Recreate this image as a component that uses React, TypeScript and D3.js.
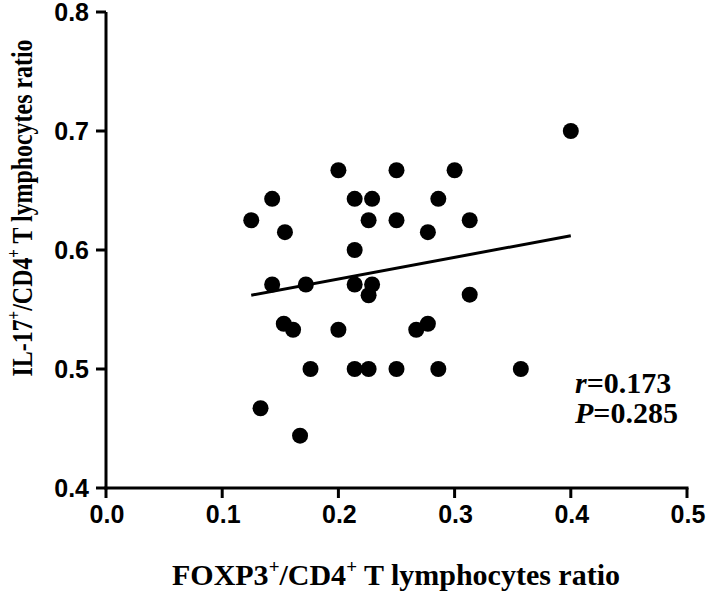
import React from "react";
import * as d3 from "d3";

const xValues = [
  0.2, 0.25, 0.143, 0.214, 0.229, 0.125, 0.226, 0.25, 0.154, 0.214,
  0.4, 0.3, 0.286, 0.313, 0.277, 0.313, 0.267, 0.277,
  0.143, 0.172, 0.214, 0.229, 0.226, 0.153, 0.161, 0.2, 0.176, 0.214, 0.226, 0.25, 0.133, 0.167,
  0.286, 0.357,
];
const yValues = [
  0.667, 0.667, 0.643, 0.643, 0.643, 0.625, 0.625, 0.625, 0.615, 0.6,
  0.7, 0.667, 0.643, 0.625, 0.615, 0.5625, 0.533, 0.538,
  0.571, 0.571, 0.571, 0.571, 0.562, 0.538, 0.533, 0.533, 0.5, 0.5, 0.5, 0.5, 0.467, 0.444,
  0.5, 0.5,
];
const fitX = [0.125, 0.4];
const fitY = [0.562, 0.612];
const xTicks = [0, 0.1, 0.2, 0.3, 0.4, 0.5];
const yTicks = [0.4, 0.5, 0.6, 0.7, 0.8];
const statLines = [
  { sym: "r", val: "=0.173" },
  { sym: "P", val: "=0.285" },
];

const W = 709;
const H = 594;
const serif = "'Liberation Serif', 'Times New Roman', serif";
const sans = "'Liberation Sans', Arial, Helvetica, sans-serif";

export default function App() {
  const x = d3.scaleLinear().domain([0, 0.5]).range([106, 687]);
  const y = d3.scaleLinear().domain([0.4, 0.8]).range([488, 12]);
  const line = d3
    .line<number>()
    .x((d) => x(d))
    .y((_, i) => y(fitY[i]));

  return (
    <svg
      width={W}
      height={H}
      style={{ position: "absolute", left: 0, top: 0, background: "#fff" }}
    >
      {/* axes */}
      <line x1={x(0)} x2={x(0)} y1={y(0.8)} y2={y(0.4) + 1.5} stroke="#000" strokeWidth={3} />
      <line x1={x(0) - 1.5} x2={x(0.5) + 1.5} y1={y(0.4)} y2={y(0.4)} stroke="#000" strokeWidth={3} />
      {yTicks.map((t) => (
        <g key={"y" + t}>
          <line x1={x(0) - 10} x2={x(0)} y1={y(t)} y2={y(t)} stroke="#000" strokeWidth={3} />
          <text
            x={89}
            y={y(t)}
            textAnchor="end"
            dominantBaseline="central"
            fontFamily={sans}
            fontWeight="bold"
            fontSize={25}
          >
            {t.toFixed(1)}
          </text>
        </g>
      ))}
      {xTicks.map((t) => (
        <g key={"x" + t}>
          <line x1={x(t)} x2={x(t)} y1={y(0.4)} y2={y(0.4) + 10} stroke="#000" strokeWidth={3} />
          <text
            x={x(t) + 1}
            y={523}
            textAnchor="middle"
            fontFamily={sans}
            fontWeight="bold"
            fontSize={25}
          >
            {t.toFixed(1)}
          </text>
        </g>
      ))}

      {/* points */}
      {xValues.map((xv, i) => (
        <circle key={i} cx={x(xv)} cy={y(yValues[i])} r={8} fill="#000" />
      ))}

      {/* regression line */}
      <path d={line(fitX) || ""} stroke="#000" strokeWidth={3} fill="none" />

      {/* stats */}
      {statLines.map((s, i) => (
        <text
          key={s.sym}
          x={575}
          y={393 + i * 30}
          fontFamily={serif}
          fontWeight="bold"
          fontSize={30}
        >
          <tspan fontStyle="italic">{s.sym}</tspan>
          {s.val}
        </text>
      ))}

      {/* x title */}
      <text
        x={396}
        y={585}
        textAnchor="middle"
        fontFamily={serif}
        fontWeight="bold"
        fontSize={30}
      >
        FOXP3<tspan fontSize={19} dy={-12}>+</tspan>
        <tspan dy={12}>/CD4</tspan>
        <tspan fontSize={19} dy={-12}>+</tspan>
        <tspan dy={12}> T lymphocytes ratio</tspan>
      </text>

      {/* y title */}
      <text
        transform={`translate(32, 208) rotate(-90)`}
        x={0}
        y={0}
        textAnchor="middle"
        fontFamily={serif}
        fontWeight="bold"
        fontSize={30}
        textLength={337}
        lengthAdjust="spacingAndGlyphs"
      >
        IL-17<tspan fontSize={19} dy={-12}>+</tspan>
        <tspan dy={12}>/CD4</tspan>
        <tspan fontSize={19} dy={-12}>+</tspan>
        <tspan dy={12}> T lymphocytes ratio</tspan>
      </text>
    </svg>
  );
}
